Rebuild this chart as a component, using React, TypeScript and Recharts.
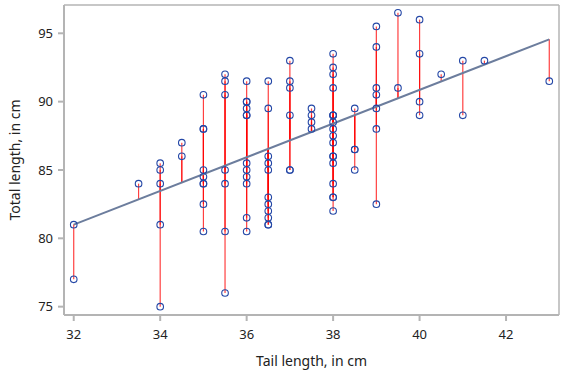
import {
  ComposedChart,
  Scatter,
  XAxis,
  YAxis,
  ReferenceLine,
} from "recharts";

// possum measurements, one entry per animal (parallel arrays)
const tailLength = [
  32, 32,
  33.5,
  34, 34, 34, 34, 34,
  34.5, 34.5,
  35, 35, 35, 35, 35, 35, 35, 35, 35,
  35.5, 35.5, 35.5, 35.5, 35.5, 35.5, 35.5,
  36, 36, 36, 36, 36, 36, 36, 36, 36, 36, 36, 36,
  36.5, 36.5, 36.5, 36.5, 36.5, 36.5, 36.5, 36.5, 36.5, 36.5, 36.5,
  37, 37, 37, 37, 37, 37,
  37.5, 37.5, 37.5, 37.5,
  38, 38, 38, 38, 38, 38, 38, 38, 38, 38, 38, 38, 38, 38, 38, 38, 38, 38,
  38.5, 38.5, 38.5, 38.5,
  39, 39, 39, 39, 39, 39, 39,
  39.5, 39.5,
  40, 40, 40, 40,
  40.5,
  41, 41,
  41.5,
  43,
];

const totalLength = [
  81, 77,
  84,
  85.5, 85, 84, 81, 75,
  87, 86,
  90.5, 88, 88, 85, 84.5, 84, 84, 82.5, 80.5,
  92, 91.5, 90.5, 85, 84, 80.5, 76,
  91.5, 90, 90, 89.5, 89, 89, 85.5, 85, 84.5, 84, 81.5, 80.5,
  91.5, 89.5, 86, 85.5, 85, 83, 82.5, 82, 81.5, 81, 81,
  93, 91.5, 91, 89, 85, 85,
  89.5, 89, 88.5, 88,
  93.5, 92.5, 92, 91, 89, 89, 89, 88.5, 88, 87.5, 87, 86, 86, 85.5, 84, 83, 83, 82,
  89.5, 86.5, 86.5, 85,
  95.5, 94, 91, 90.5, 89.5, 88, 82.5,
  96.5, 91,
  96, 93.5, 90, 89,
  92,
  93, 89,
  93,
  91.5,
];

// least squares line shown in the chart
const fitIntercept = 41.58;
const fitSlope = 1.232;
const fitRange = [32, 43];

const xTicks = [32, 34, 36, 38, 40, 42];
const yTicks = [75, 80, 85, 90, 95];

const X_DOMAIN = [31.775, 43.225];
const Y_DOMAIN = [74.39, 97.07];

const points = tailLength.map((t, i) => ({ tail: t, total: totalLength[i] }));
const fitAt = (t: number) => fitIntercept + fitSlope * t;

const AXIS = "#b4b4b4";
const FONT = "'Noto Sans', sans-serif";

const Ring = (props: any) => (
  <circle
    cx={props.cx}
    cy={props.cy}
    r={3.3}
    fill="none"
    stroke="#2447a6"
    strokeWidth={1.1}
  />
);

export default function App() {
  return (
    <div style={{ position: "absolute", left: 0, top: 0, background: "#fff" }}>
      <ComposedChart
        width={564}
        height={373}
        data={points}
        margin={{ top: 5, right: 5, bottom: 0, left: 0 }}
      >
        <XAxis
          dataKey="tail"
          type="number"
          domain={X_DOMAIN}
          ticks={xTicks}
          allowDataOverflow
          height={58}
          tickSize={6}
          tickMargin={9}
          stroke={AXIS}
          strokeWidth={2}
          tick={{ fill: "#222", fontSize: 13, fontFamily: FONT }}
          label={{
            value: "Tail length, in cm",
            position: "insideBottom",
            offset: 7,
            style: { fill: "#222", fontSize: 14, fontFamily: FONT },
          }}
        />
        <YAxis
          dataKey="total"
          type="number"
          domain={Y_DOMAIN}
          ticks={yTicks}
          allowDataOverflow
          width={64}
          tickSize={6}
          tickMargin={5}
          stroke={AXIS}
          strokeWidth={2}
          tick={{ fill: "#222", fontSize: 13, fontFamily: FONT }}
          label={{
            value: "Total length, in cm",
            angle: -90,
            position: "insideLeft",
            offset: 15,
            style: { fill: "#222", fontSize: 14, fontFamily: FONT, textAnchor: "middle" },
          }}
        />
        {/* frame on top and right */}
        <ReferenceLine y={Y_DOMAIN[1]} stroke={AXIS} strokeWidth={1.5} ifOverflow="visible" />
        <ReferenceLine x={X_DOMAIN[1]} stroke={AXIS} strokeWidth={1.5} ifOverflow="visible" />
        {points.map((p, i) => (
          <ReferenceLine
            key={"r" + i}
            segment={[
              { x: p.tail, y: p.total },
              { x: p.tail, y: fitAt(p.tail) },
            ]}
            stroke="#ff0000"
            strokeOpacity={0.75}
            strokeWidth={1.2}
          />
        ))}
        <ReferenceLine
          segment={[
            { x: fitRange[0], y: fitAt(fitRange[0]) },
            { x: fitRange[1], y: fitAt(fitRange[1]) },
          ]}
          stroke="#6c7d9d"
          strokeWidth={2}
        />
        <Scatter
          dataKey="total"
          shape={Ring}
          isAnimationActive={false}
        />
      </ComposedChart>
    </div>
  );
}
